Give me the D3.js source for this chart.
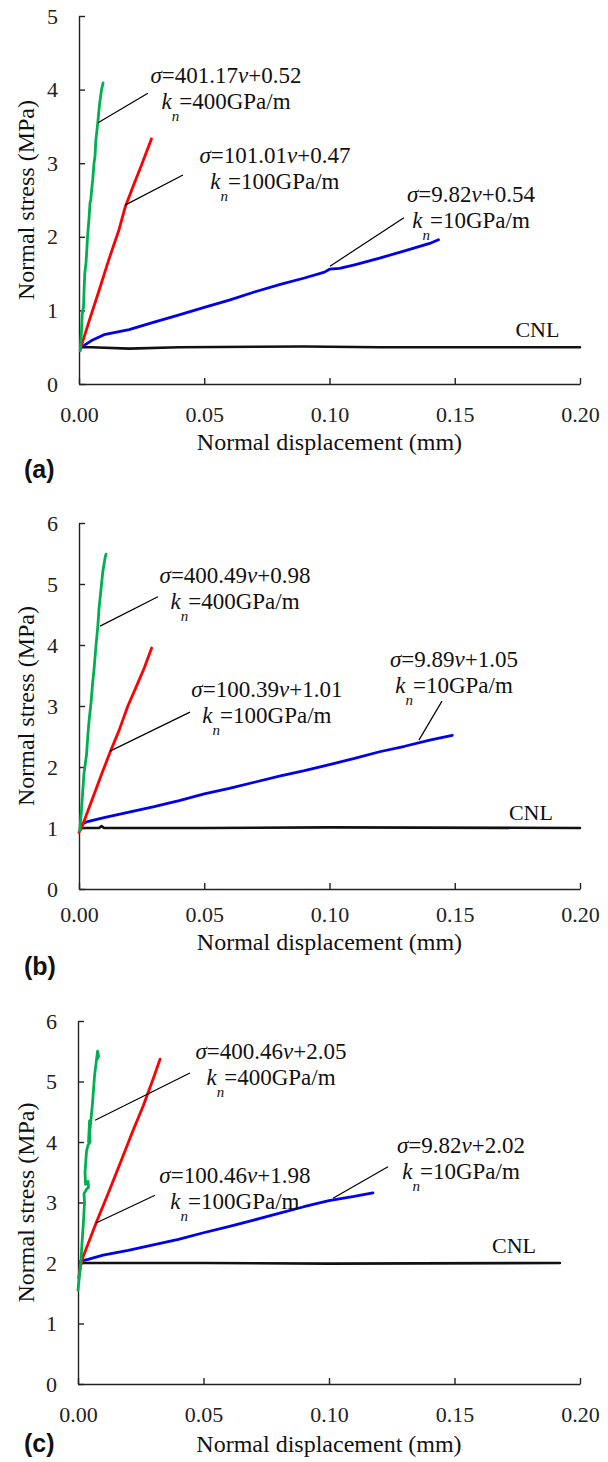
<!DOCTYPE html>
<html><head><meta charset="utf-8">
<script src="https://cdn.jsdelivr.net/npm/d3@7"></script>
<style>
html,body{margin:0;padding:0;background:#fff;}
svg{display:block;}
</style></head>
<body>
<svg id="chart" width="608" height="1462"></svg>
<script>
// ---------------- DATA ----------------
const xTicks = [0, 0.05, 0.10, 0.15, 0.20];
const yTicksA = [0, 1, 2, 3, 4, 5];
const yTicksB = [0, 1, 2, 3, 4, 5, 6];
const yTicksC = [0, 1, 2, 3, 4, 5, 6];
const panelLabels = ["(a)", "(b)", "(c)"];
const xTitle = "Normal displacement (mm)";
const yTitle = "Normal stress (MPa)";

// Panel (a): displacement (mm), stress (MPa)
const a400 = [[0.0005,0.45],[0.001,0.72],[0.0013,0.95],[0.0018,1.05],[0.002,1.25],[0.0023,1.5],[0.0028,1.65],[0.003,1.75],[0.0034,2.0],[0.004,2.25],[0.0044,2.46],[0.0047,2.5],[0.005,2.62],[0.0055,2.78],[0.006,3.0],[0.0064,3.1],[0.0067,3.3],[0.0075,3.55],[0.0082,3.8],[0.009,4.0],[0.0096,4.09]];
const a100 = [[0.0005,0.47],[0.004,0.85],[0.008,1.27],[0.012,1.7],[0.016,2.1],[0.0184,2.4],[0.022,2.72],[0.025,2.98],[0.0289,3.33]];
const a10 = [[0.001,0.5],[0.005,0.59],[0.01,0.67],[0.02,0.74],[0.03,0.84],[0.04,0.94],[0.05,1.04],[0.06,1.14],[0.07,1.25],[0.08,1.35],[0.09,1.44],[0.098,1.52],[0.1,1.56],[0.104,1.57],[0.11,1.62],[0.12,1.71],[0.13,1.81],[0.14,1.91],[0.1435,1.96]];
const aCNL = [[0.0005,0.5],[0.005,0.5],[0.02,0.48],[0.04,0.5],[0.09,0.51],[0.12,0.5],[0.2,0.5]];

// Panel (b)
const b400 = [[0.0003,0.95],[0.001,1.3],[0.0015,1.6],[0.002,1.9],[0.003,2.2],[0.0035,2.5],[0.004,2.75],[0.0048,3.05],[0.0055,3.4],[0.006,3.6],[0.0068,4.0],[0.0075,4.3],[0.008,4.6],[0.009,5.0],[0.0095,5.2],[0.0105,5.45],[0.0108,5.49]];
const b100 = [[0.0,0.93],[0.001,1.0],[0.003,1.22],[0.006,1.55],[0.009,1.88],[0.0124,2.24],[0.016,2.6],[0.0195,3.0],[0.023,3.33],[0.026,3.62],[0.029,3.95]];
const b10 = [[0.001,1.06],[0.003,1.1],[0.01,1.17],[0.02,1.26],[0.03,1.35],[0.04,1.45],[0.05,1.56],[0.06,1.65],[0.07,1.75],[0.08,1.85],[0.09,1.94],[0.1,2.04],[0.11,2.14],[0.12,2.25],[0.13,2.34],[0.14,2.44],[0.149,2.52]];
const bCNL = [[0.0005,1.0],[0.008,1.0],[0.009,1.03],[0.01,1.0],[0.05,1.0],[0.1,1.01],[0.2,1.0]];

// Panel (c)
const c400 = [[0.0,1.55],[0.0006,1.8],[0.0012,2.05],[0.0016,2.33],[0.0022,2.7],[0.0026,3.0],[0.0024,3.15],[0.0034,3.22],[0.0042,3.25],[0.004,3.35],[0.003,3.3],[0.0028,3.5],[0.0034,3.85],[0.004,3.95],[0.0048,4.0],[0.0046,4.35],[0.0042,4.0],[0.005,4.3],[0.0058,4.65],[0.0066,5.1],[0.0072,5.3],[0.0078,5.5],[0.0082,5.42],[0.0078,5.38]];
const c100 = [[0.0003,1.75],[0.001,1.95],[0.002,2.1],[0.0072,2.66],[0.012,3.15],[0.017,3.67],[0.022,4.2],[0.026,4.6],[0.03,5.05],[0.0327,5.37]];
const c10 = [[0.001,2.03],[0.004,2.06],[0.01,2.13],[0.02,2.21],[0.03,2.3],[0.04,2.39],[0.05,2.5],[0.06,2.6],[0.07,2.71],[0.08,2.82],[0.09,2.93],[0.1,3.03],[0.11,3.1],[0.1175,3.16]];
const cCNL = [[0.001,2.0],[0.05,2.0],[0.1,1.99],[0.192,2.0]];

// Annotation texts: [sigma coefficient, intercept, kn label]
const annA = [["401.17","0.52","400GPa/m"],["101.01","0.47","100GPa/m"],["9.82","0.54","10GPa/m"]];
const annB = [["400.49","0.98","400GPa/m"],["100.39","1.01","100GPa/m"],["9.89","1.05","10GPa/m"]];
const annC = [["400.46","2.05","400GPa/m"],["100.46","1.98","100GPa/m"],["9.82","2.02","10GPa/m"]];
const cnlLabel = "CNL";

// ---------------- LAYOUT / STYLE ----------------
const colors = {g:"#00b050", r:"#ff0000", b:"#0000ee", k:"#111111"};
const serif = "'Liberation Serif','Times New Roman',serif";
const sans = "'Liberation Sans',Arial,sans-serif";

const panels = [
  {x0:79, x1:580, yb:384, yt:16, ymax:5, yt_ticks:yTicksA,
   series:[[aCNL,colors.k],[a10,colors.b],[a100,colors.r],[a400,colors.g]],
   ann:annA,
   annPos:[{tx:0.0587,ty:4.09,l:[[0.0076,3.55],[0.0275,3.95]]},
           {tx:0.0782,ty:3.0,l:[[0.0184,2.43],[0.0415,2.84]]},
           {tx:0.1565,ty:2.47,l:[[0.1002,1.60],[0.1297,2.26]]}],
   cnl:[0.183,0.64], tickBase:38, titleBase:450, labelBase:478},
  {x0:79, x1:580, yb:889, yt:523, ymax:6, yt_ticks:yTicksB,
   series:[[bCNL,colors.k],[b10,colors.b],[b100,colors.r],[b400,colors.g]],
   ann:annB,
   annPos:[{tx:0.0623,ty:5.02,l:[[0.0084,4.31],[0.0315,4.79]]},
           {tx:0.075,ty:3.15,l:[[0.0124,2.26],[0.0443,2.90]]},
           {tx:0.1497,ty:3.64,l:[[0.1449,3.08],[0.1357,2.44]]}],
   cnl:[0.1804,1.13], tickBase:33, titleBase:950, labelBase:975},
  {x0:78, x1:580, yb:1384, yt:1021, ymax:6, yt_ticks:yTicksC,
   series:[[cCNL,colors.k],[c10,colors.b],[c100,colors.r],[c400,colors.g]],
   ann:annC,
   annPos:[{tx:0.0769,ty:5.37,l:[[0.0068,4.36],[0.0446,5.14]]},
           {tx:0.0625,ty:3.32,l:[[0.0072,2.66],[0.0307,3.12]]},
           {tx:0.1526,ty:3.82,l:[[0.1016,3.07],[0.1235,3.59]]}],
   cnl:[0.1737,2.17], tickBase:38, titleBase:1452, labelBase:1452}
];

const svg = d3.select("#chart");

panels.forEach((p, i) => {
  const x = d3.scaleLinear().domain([0, 0.2]).range([p.x0, p.x1]);
  const y = d3.scaleLinear().domain([0, p.ymax]).range([p.yb, p.yt]);
  const g = svg.append("g");

  // axes
  const xa = g.append("g").attr("transform", `translate(0,${p.yb})`)
    .call(d3.axisBottom(x).tickValues(xTicks).tickFormat(d3.format(".2f")).tickSizeInner(-6).tickSizeOuter(0));
  xa.selectAll("text").attr("dy", null).attr("y", p.tickBase)
    .style("font-family", serif).style("font-size", "22px").attr("fill", "#222");
  const ya = g.append("g").attr("transform", `translate(${p.x0},0)`)
    .call(d3.axisLeft(y).tickValues(p.yt_ticks).tickFormat(d3.format("d")).tickSizeInner(-6).tickSizeOuter(0).tickPadding(21));
  ya.selectAll("text").attr("x", -21)
    .style("font-family", serif).style("font-size", "22px").attr("fill", "#222");
  [xa, ya].forEach(a => {
    a.select(".domain").attr("stroke", "#222").attr("stroke-width", 1.4);
    a.selectAll(".tick line").attr("stroke", "#222").attr("stroke-width", 1.4);
  });

  // series
  const line = d3.line().x(d => x(d[0])).y(d => y(d[1]));
  p.series.forEach(([data, col]) => {
    g.append("path").datum(data).attr("d", line)
      .attr("fill", "none").attr("stroke", col)
      .attr("stroke-width", col === colors.k ? 2.6 : 2.8)
      .attr("stroke-linejoin", "round").attr("stroke-linecap", "round");
  });

  // annotations
  p.ann.forEach((a, j) => {
    const pos = p.annPos[j];
    g.append("line")
      .attr("x1", x(pos.l[0][0])).attr("y1", y(pos.l[0][1]))
      .attr("x2", x(pos.l[1][0])).attr("y2", y(pos.l[1][1]))
      .attr("stroke", "#000").attr("stroke-width", 1.2);
    const cx = x(pos.tx), by = y(pos.ty);
    const t1 = g.append("text").attr("x", cx).attr("y", by).attr("text-anchor", "middle")
      .style("font-family", serif).style("font-size", "23px").attr("fill", "#111");
    t1.append("tspan").attr("font-style", "italic").text("σ");
    t1.append("tspan").text("=" + a[0]);
    t1.append("tspan").attr("font-style", "italic").text("v");
    t1.append("tspan").text("+" + a[1]);
    const t2 = g.append("text").attr("x", cx).attr("y", by + 26).attr("text-anchor", "middle")
      .style("font-family", serif).style("font-size", "23px").attr("fill", "#111");
    t2.append("tspan").attr("font-style", "italic").text("k");
    t2.append("tspan").attr("font-style", "italic").attr("dy", 12).style("font-size", "15px").text("n");
    t2.append("tspan").attr("dy", -12).text("=" + a[2]);
  });

  // CNL label
  g.append("text").attr("x", x(p.cnl[0])).attr("y", y(p.cnl[1])).attr("text-anchor", "middle")
    .style("font-family", serif).style("font-size", "22px").attr("fill", "#111").text(cnlLabel);

  // axis titles
  g.append("text").attr("x", (p.x0 + p.x1) / 2).attr("y", p.titleBase).attr("text-anchor", "middle")
    .style("font-family", serif).style("font-size", "24px").attr("fill", "#111").text(xTitle);
  g.append("text").attr("transform", `translate(34,${(p.yb + p.yt) / 2}) rotate(-90)`)
    .attr("text-anchor", "middle")
    .style("font-family", serif).style("font-size", "24px").attr("fill", "#111").text(yTitle);

  // panel label
  g.append("text").attr("x", 24).attr("y", p.labelBase)
    .style("font-family", sans).style("font-weight", "bold").style("font-size", "25px").attr("fill", "#111")
    .text(panelLabels[i]);
});
</script>
</body></html>
